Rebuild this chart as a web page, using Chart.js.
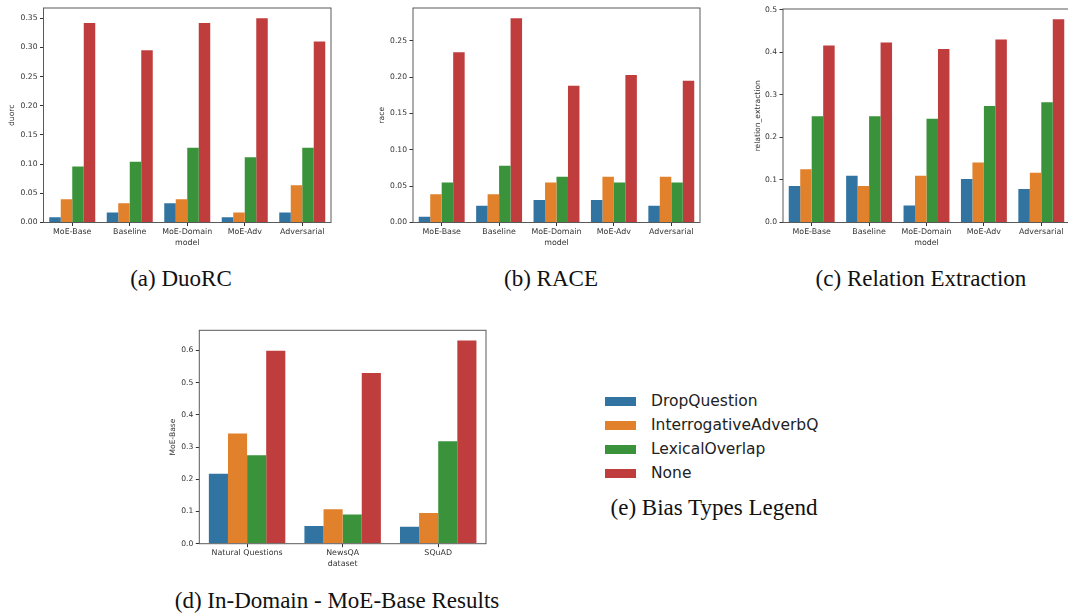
<!DOCTYPE html>
<html>
<head>
<meta charset="utf-8">
<script src="https://cdn.jsdelivr.net/npm/chart.js@4.4.1/dist/chart.umd.min.js"></script>
<style>
  body { margin: 0; width: 1068px; height: 615px; overflow: hidden; background: #fff; position: relative; }
  canvas { position: absolute; }
  .caption { position: absolute; font-family: "Liberation Serif", "DejaVu Serif", serif; font-size: 23px; color: #111;
    white-space: nowrap; transform: translate(-50%, -50%); }
  #legend { position: absolute; left: 605px; top: 389px; font-family: "DejaVu Sans", sans-serif; font-size: 15.5px; color: #222; }
  .row { height: 24px; display: flex; align-items: center; }
  .patch { width: 31px; height: 9px; margin-right: 15px; }
</style>
</head>
<body>
<canvas id="duorc" width="340" height="250" style="left:0px;top:0px"></canvas>
<canvas id="race" width="360" height="250" style="left:350px;top:0px"></canvas>
<canvas id="relation" width="362" height="250" style="left:710px;top:0px"></canvas>
<canvas id="indomain" width="340" height="255" style="left:160px;top:320px"></canvas>

<div class="caption" style="left:181px;top:279px">(a) DuoRC</div>
<div class="caption" style="left:551px;top:279px">(b) RACE</div>
<div class="caption" style="left:921px;top:279px">(c) Relation Extraction</div>
<div class="caption" style="left:337px;top:601px">(d) In-Domain - MoE-Base Results</div>
<div class="caption" style="left:714px;top:508px">(e) Bias Types Legend</div>
<div id="legend"></div>

<script>
// categories
const models = ["MoE-Base", "Baseline", "MoE-Domain", "MoE-Adv", "Adversarial"];
const inDomainSets = ["Natural Questions", "NewsQA", "SQuAD"];
const biasTypes = ["DropQuestion", "InterrogativeAdverbQ", "LexicalOverlap", "None"];
const biasColors = ["#3274a1", "#e1812c", "#3a923a", "#c03d3e"];

// (a) DuoRC
const duorcDrop = [0.009, 0.017, 0.033, 0.009, 0.017];
const duorcInterrog = [0.040, 0.033, 0.040, 0.017, 0.064];
const duorcLexical = [0.096, 0.104, 0.128, 0.112, 0.128];
const duorcNone = [0.342, 0.295, 0.342, 0.350, 0.310];
const duorcTicks = [0, 0.05, 0.10, 0.15, 0.20, 0.25, 0.30, 0.35];

// (b) RACE
const raceDrop = [0.008, 0.023, 0.031, 0.031, 0.023];
const raceInterrog = [0.039, 0.039, 0.055, 0.063, 0.063];
const raceLexical = [0.055, 0.078, 0.063, 0.055, 0.055];
const raceNone = [0.234, 0.281, 0.188, 0.203, 0.195];
const raceTicks = [0, 0.05, 0.10, 0.15, 0.20, 0.25];

// (c) Relation Extraction
const relDrop = [0.086, 0.110, 0.040, 0.102, 0.079];
const relInterrog = [0.125, 0.086, 0.110, 0.141, 0.117];
const relLexical = [0.250, 0.250, 0.244, 0.274, 0.283];
const relNone = [0.416, 0.423, 0.408, 0.430, 0.478];
const relTicks = [0, 0.1, 0.2, 0.3, 0.4, 0.5];

// (d) In-Domain, MoE-Base
const inDrop = [0.217, 0.055, 0.053];
const inInterrog = [0.342, 0.107, 0.095];
const inLexical = [0.275, 0.091, 0.318];
const inNone = [0.599, 0.530, 0.631];
const inTicks = [0, 0.1, 0.2, 0.3, 0.4, 0.5, 0.6];

const tickFont = { family: "DejaVu Sans", size: 7.6 };
const xTickFont = { family: "DejaVu Sans", size: 7.9 };
const inkColor = "#333";

// draws the full box around the plot area, like matplotlib spines
const framePlugin = {
  id: "frame",
  afterDraw(chart) {
    const { left, top, right, bottom } = chart.chartArea;
    const ctx = chart.ctx;
    ctx.save();
    ctx.strokeStyle = "#5a5a5a";
    ctx.lineWidth = 1;
    ctx.strokeRect(left, top, right - left, bottom - top);
    ctx.restore();
  },
};

// geo: canvas box + target plot area (page pixels) + title positions
function makeChart(id, labels, series, yMax, yTicks, decimals, yTitle, xTitle, geo) {
  const yWidth = geo.areaLeft - geo.canvasLeft;
  const xHeight = geo.canvasTop + geo.canvasH - geo.areaBottom;
  const padRight = geo.canvasLeft + geo.canvasW - geo.areaRight;
  const padTop = geo.areaTop - geo.canvasTop;

  new Chart(document.getElementById(id), {
    type: "bar",
    data: {
      labels: labels,
      datasets: series.map((values, i) => ({
        label: biasTypes[i],
        data: values,
        backgroundColor: biasColors[i],
        borderWidth: 0,
        categoryPercentage: 0.8,
        barPercentage: 1.0,
      })),
    },
    options: {
      responsive: false,
      animation: false,
      layout: { padding: { top: padTop, right: padRight, left: 0, bottom: 0 } },
      plugins: { legend: { display: false }, tooltip: { enabled: false } },
      scales: {
        x: {
          grid: { display: true, drawOnChartArea: false, drawTicks: true, tickLength: 3.5, color: inkColor, offset: false },
          border: { display: false },
          ticks: { font: xTickFont, color: inkColor, padding: 1, maxRotation: 0, autoSkip: false },
          // bottom titles are placed from the lower edge using padding.bottom
          title: { display: true, text: xTitle, font: xTickFont, color: inkColor,
            padding: { top: 0, bottom: geo.canvasTop + geo.canvasH - geo.xTitleY - 4.7 } },
          afterFit: (scale) => { scale.height = xHeight; },
        },
        y: {
          min: 0,
          max: yMax,
          grid: { display: true, drawOnChartArea: false, drawTicks: true, tickLength: 3.5, color: inkColor },
          border: { display: false },
          ticks: { font: tickFont, color: inkColor, padding: 2.5, callback: (v) => v.toFixed(decimals) },
          afterBuildTicks: (scale) => { scale.ticks = yTicks.map((v) => ({ value: v })); },
          title: { display: true, text: yTitle, font: tickFont, color: inkColor,
            padding: { top: geo.yTitleX - geo.canvasLeft - 4.5, bottom: 0 } },
          afterFit: (scale) => { scale.width = yWidth; },
        },
      },
    },
    plugins: [framePlugin],
  });
}

makeChart("duorc", models, [duorcDrop, duorcInterrog, duorcLexical, duorcNone], 0.3675, duorcTicks, 2, "duorc", "model",
  { canvasLeft: 0, canvasTop: 0, canvasW: 340, canvasH: 250, areaLeft: 43.5, areaRight: 331, areaTop: 8, areaBottom: 222.5, yTitleX: 12, xTitleY: 243 });

makeChart("race", models, [raceDrop, raceInterrog, raceLexical, raceNone], 0.295, raceTicks, 2, "race", "model",
  { canvasLeft: 350, canvasTop: 0, canvasW: 360, canvasH: 250, areaLeft: 413, areaRight: 700, areaTop: 8, areaBottom: 222.5, yTitleX: 382, xTitleY: 243 });

makeChart("relation", models, [relDrop, relInterrog, relLexical, relNone], 0.502, relTicks, 1, "relation_extraction", "model",
  { canvasLeft: 710, canvasTop: 0, canvasW: 362, canvasH: 250, areaLeft: 783, areaRight: 1070, areaTop: 9, areaBottom: 222.5, yTitleX: 758, xTitleY: 243 });

makeChart("indomain", inDomainSets, [inDrop, inInterrog, inLexical, inNone], 0.6626, inTicks, 1, "MoE-Base", "dataset",
  { canvasLeft: 160, canvasTop: 320, canvasW: 340, canvasH: 255, areaLeft: 199.3, areaRight: 486, areaTop: 330.3, areaBottom: 543.7, yTitleX: 173, xTitleY: 564 });

// legend for the bias types (panel e)
const legend = document.getElementById("legend");
biasTypes.forEach((name, i) => {
  const row = document.createElement("div");
  row.className = "row";
  row.innerHTML = `<span class="patch" style="background:${biasColors[i]}"></span><span>${name}</span>`;
  legend.appendChild(row);
});
</script>
</body>
</html>
